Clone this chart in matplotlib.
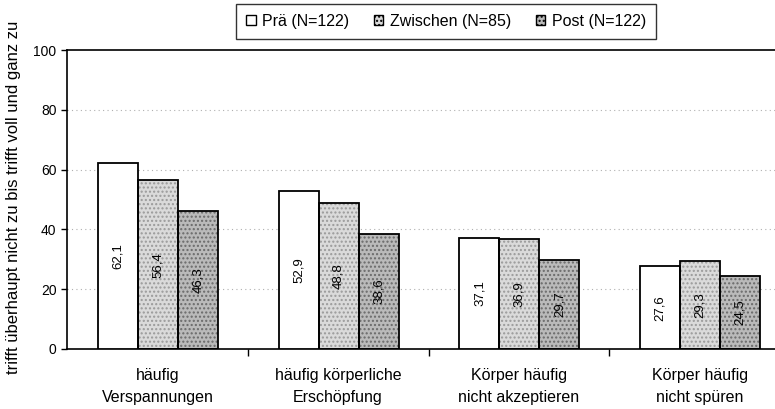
import matplotlib
matplotlib.use("Agg")
import matplotlib.pyplot as plt
import numpy as np
from matplotlib.patches import Patch

plt.rcParams['font.family'] = ['Liberation Sans', 'DejaVu Sans']

categories = ["häufig\nVerspannungen", "häufig körperliche\nErschöpfung",
              "Körper häufig\nnicht akzeptieren", "Körper häufig\nnicht spüren"]
series_names = ["Prä (N=122)", "Zwischen (N=85)", "Post (N=122)"]
pra = [62.1, 52.9, 37.1, 27.6]
zwischen = [56.4, 48.8, 36.9, 29.3]
post = [46.3, 38.6, 29.7, 24.5]
y_ticks = [0, 20, 40, 60, 80, 100]
y_label = "trifft überhaupt nicht zu bis trifft voll und ganz zu"

series = [pra, zwischen, post]
faces = ["white", "#dadada", "#bababa"]
hatches = [None, "....", "...."]
hatch_cols = [None, "#9a9a9a", "#6a6a6a"]

fig = plt.figure(figsize=(7.75, 4.09), dpi=100)
ax = fig.add_axes([67/775, 1-349/409, 723/775, 299/409])

x = np.arange(len(categories))
w = 0.221
offsets = [-w, 0, w]
for s, vals in enumerate(series):
    pos = x + offsets[s] + 0.003
    if hatches[s]:
        ax.bar(pos, vals, width=w, color=faces[s], edgecolor=hatch_cols[s],
               hatch=hatches[s], linewidth=0, zorder=2)
    ax.bar(pos, vals, width=w, facecolor='none' if hatches[s] else faces[s],
           edgecolor='black', linewidth=1.3, zorder=3)
    for p, v in zip(pos, vals):
        ax.text(p, v/2, f"{v:.1f}".replace('.', ','), rotation=90,
                ha='center', va='center', fontsize=9.5, zorder=4)

proxies = []
for s in range(3):
    if hatches[s]:
        proxies.append(Patch(facecolor=faces[s], edgecolor='black', hatch=hatches[s], linewidth=1.0))
    else:
        proxies.append(Patch(facecolor=faces[s], edgecolor='black', linewidth=1.0))
leg = fig.legend(proxies, series_names, loc='center', bbox_to_anchor=(446/775, 1-21.5/409),
                 ncol=3, frameon=True, fancybox=False, edgecolor='black',
                 fontsize=11.5, handlelength=0.6, handleheight=0.6, handletextpad=0.4,
                 columnspacing=1.55, borderpad=0.62, borderaxespad=0)
leg.get_frame().set_linewidth(1.0)

ax.set_xlim(-0.5, 3.5)
ax.set_ylim(0, 100)
ax.set_yticks(y_ticks)
ax.set_yticklabels([str(t) for t in y_ticks], fontsize=10)
for t in y_ticks[1:-1]:
    ax.axhline(t, color='#b0b0b0', linestyle=(0, (1, 3)), linewidth=0.8, zorder=1)

ax.set_xticks([0.5, 1.5, 2.5])
ax.set_xticklabels([])
ax.tick_params(axis='x', direction='out', length=5, width=1)
ax.tick_params(axis='y', direction='out', length=4, width=1)
for i, c in enumerate(categories):
    ax.text(i, -6.3, c, ha='center', va='top', fontsize=11.5, linespacing=1.6,
            transform=ax.transData)

for sp in ['left', 'bottom', 'top']:
    ax.spines[sp].set_linewidth(1.2)
ax.spines['right'].set_visible(False)

fig.text(14/775, 1-197/409, y_label, rotation=90, ha='center', va='center', fontsize=12)

fig.savefig("out.png", dpi=100)
